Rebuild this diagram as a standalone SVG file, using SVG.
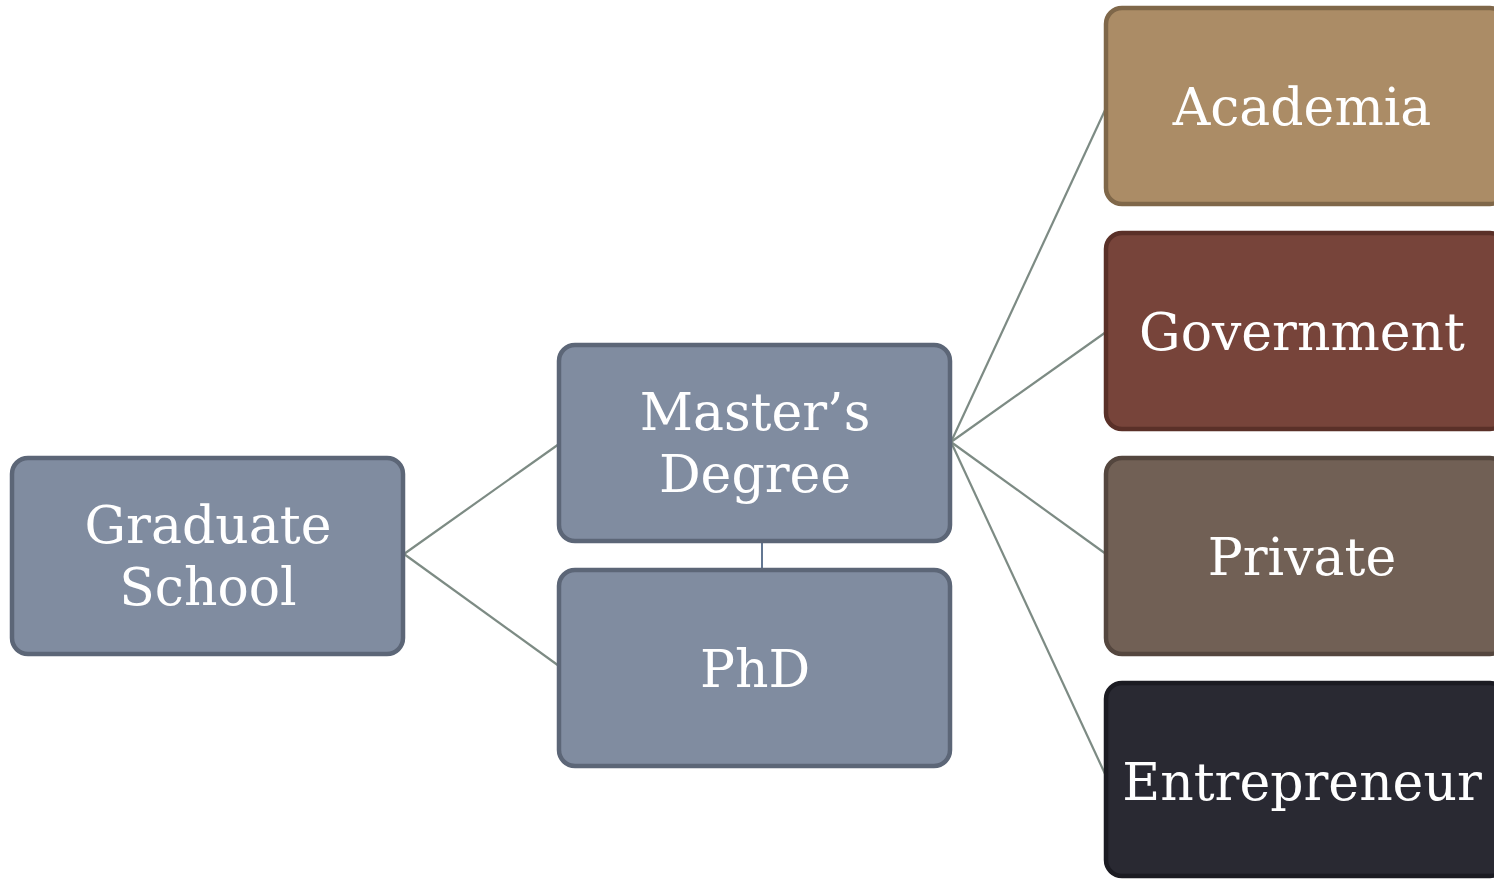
<svg xmlns="http://www.w3.org/2000/svg" width="1494" height="879" viewBox="0 0 1494 879">
<style>
.box{stroke-width:4.5}
.blue{fill:#808ca0;stroke:#5c6677}
.lbl{font-family:"DejaVu Serif","Liberation Serif",serif;font-size:52px;fill:#ffffff;text-anchor:middle}
.conn{stroke:#7d8b84;stroke-width:2.2;fill:none}
</style>
<rect width="1494" height="879" fill="#ffffff"/>
<g id="connectors">
<line class="conn" x1="404" y1="554" x2="559" y2="444"/>
<line class="conn" x1="404" y1="554" x2="559" y2="666"/>
<line class="conn" x1="951" y1="442" x2="1106" y2="108"/>
<line class="conn" x1="951" y1="442" x2="1106" y2="332"/>
<line class="conn" x1="951" y1="442" x2="1106" y2="554"/>
<line class="conn" x1="951" y1="442" x2="1106" y2="776"/>
<line x1="762" y1="541" x2="762" y2="570" stroke="#2f4a6e" stroke-width="1.5"/>
</g>
<g id="graduate">
<rect class="box blue" x="12" y="458" width="391" height="196" rx="16"/>
<text class="lbl" x="208" y="543">Graduate</text>
<text class="lbl" x="208" y="605">School</text>
</g>
<g id="masters">
<rect class="box blue" x="559" y="345" width="391" height="196" rx="16"/>
<text class="lbl" x="755" y="430">Master’s</text>
<text class="lbl" x="755" y="492">Degree</text>
</g>
<g id="phd">
<rect class="box blue" x="559" y="570" width="391" height="196" rx="16"/>
<text class="lbl" x="755" y="687">PhD</text>
</g>
<g id="academia">
<rect class="box" x="1106" y="8" width="400" height="196" rx="16" fill="#ab8c66" stroke="#7f6749"/>
<text class="lbl" x="1302" y="125">Academia</text>
</g>
<g id="government">
<rect class="box" x="1106" y="233" width="400" height="196" rx="16" fill="#77443a" stroke="#5a3028"/>
<text class="lbl" x="1302" y="350">Government</text>
</g>
<g id="private">
<rect class="box" x="1106" y="458" width="400" height="196" rx="16" fill="#716055" stroke="#54463e"/>
<text class="lbl" x="1302" y="575">Private</text>
</g>
<g id="entrepreneur">
<rect class="box" x="1106" y="683" width="400" height="193" rx="16" fill="#292932" stroke="#1b1b22"/>
<text class="lbl" x="1302" y="800">Entrepreneur</text>
</g>
</svg>
